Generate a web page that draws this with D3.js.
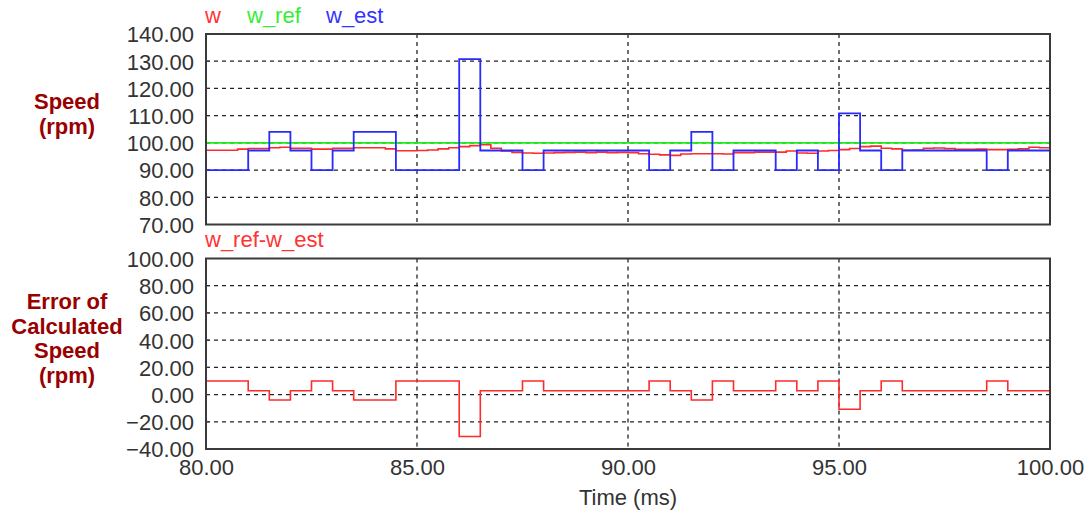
<!DOCTYPE html>
<html>
<head>
<meta charset="utf-8">
<script src="https://cdn.jsdelivr.net/npm/d3@7"></script>
<style>
  body { margin: 0; background: #fff; }
  svg { display: block; font-family: "Liberation Sans", Arial, sans-serif; }
  .tick text { fill: #333; font-size: 22px; }
  .domain { display: none; }
</style>
</head>
<body>
<div id="chart"></div>
<script>
// speed traces, time in ms

const wTime = [80, 80.25, 80.5, 80.75, 81, 81.25, 81.5, 81.75, 82, 82.25, 82.5, 82.75,
  83, 83.25, 83.5, 83.75, 84, 84.25, 84.5, 84.75, 85, 85.25, 85.5, 85.75,
  86, 86.25, 86.5, 86.75, 87, 87.25, 87.5, 87.75, 88, 88.25, 88.5, 88.75,
  89, 89.25, 89.5, 89.75, 90, 90.25, 90.5, 90.75, 91, 91.25, 91.5, 91.75,
  92, 92.25, 92.5, 92.75, 93, 93.25, 93.5, 93.75, 94, 94.25, 94.5, 94.75,
  95, 95.25, 95.5, 95.75, 96, 96.25, 96.5, 96.75, 97, 97.25, 97.5, 97.75,
  98, 98.25, 98.5, 98.75, 99, 99.25, 99.5, 99.75, 100];
const wSpeed = [97.3, 97.3, 97.3, 97.7, 97.9, 97.9, 98.2, 98.4, 98.0, 98.0, 97.7, 97.7,
  98.0, 98.0, 98.2, 98.2, 98.2, 97.8, 97.1, 97.1, 97.2, 97.4, 97.8, 98.2,
  98.6, 99.0, 99.3, 98.0, 97.0, 96.5, 96.3, 96.2, 96.3, 96.4, 96.5, 96.6,
  96.4, 96.6, 96.4, 96.5, 96.4, 96.0, 95.8, 95.6, 95.4, 95.9, 96.0, 96.0,
  96.0, 95.9, 96.4, 96.4, 96.6, 96.6, 96.6, 97.0, 96.3, 96.2, 97.0, 97.2,
  97.5, 97.9, 98.6, 98.8, 98.0, 97.8, 97.3, 97.4, 98.0, 98.1, 97.9, 97.6,
  97.6, 97.7, 97.5, 97.5, 97.6, 97.8, 98.4, 98.2, 98.2];

const wRef = 100;

const estTime = [80, 80.5, 81, 81.5, 82, 82.5, 83, 83.5, 84, 84.5, 85, 85.5,
  86, 86.5, 87, 87.5, 88, 88.5, 89, 89.5, 90, 90.5, 91, 91.5,
  92, 92.5, 93, 93.5, 94, 94.5, 95, 95.5, 96, 96.5, 97, 97.5,
  98, 98.5, 99, 99.5, 100];
const estSpeed = [90, 90, 97.2, 104, 97.2, 90, 97.2, 104, 104, 90, 90, 90,
  130.8, 97.2, 97.2, 90, 97.2, 97.2, 97.2, 97.2, 97.2, 90, 97.2, 104,
  90, 97.2, 97.2, 90, 97.2, 90, 110.8, 97.2, 90, 97.2, 97.2, 97.2,
  97.2, 90, 97.2, 97.2, 97.2];

const speedTicks = [70, 80, 90, 100, 110, 120, 130, 140];
const errTicks = [-40, -20, 0, 20, 40, 60, 80, 100];
const timeTicks = [80, 85, 90, 95, 100];

const width = 1087, height = 518;
const left = 206, right = 1050;

const svg = d3.select("#chart").append("svg")
  .attr("width", width)
  .attr("height", height);

const x = d3.scaleLinear().domain([80, 100]).range([left, right]);
const ySpeed = d3.scaleLinear().domain([70, 140]).range([224.5, 34]);
const yErr = d3.scaleLinear().domain([-40, 100]).range([449, 258.5]);

const fmt = d3.format(".2f");

function panel(y, ticks, top, bottom) {
  const g = svg.append("g");
  // horizontal grid
  g.append("g").selectAll("line")
    .data(ticks.slice(1, -1))
    .enter().append("line")
    .attr("x1", left).attr("x2", right)
    .attr("y1", d => y(d)).attr("y2", d => y(d))
    .attr("stroke", "#222").attr("stroke-width", 1.3)
    .attr("stroke-dasharray", "4,4");
  // vertical grid
  g.append("g").selectAll("line")
    .data(timeTicks.slice(1, -1))
    .enter().append("line")
    .attr("x1", d => x(d)).attr("x2", d => x(d))
    .attr("y1", top).attr("y2", bottom)
    .attr("stroke", "#222").attr("stroke-width", 1.3)
    .attr("stroke-dasharray", "4,4");
  // y tick labels
  g.append("g")
    .attr("transform", `translate(${left},0)`)
    .call(d3.axisLeft(y).tickValues(ticks).tickFormat(fmt).tickSize(0).tickPadding(12))
    .selectAll(".tick text").attr("dy", "0.36em");
  // inward tick marks
  g.append("g").selectAll("line")
    .data(ticks)
    .enter().append("line")
    .attr("x1", left).attr("x2", left + 4)
    .attr("y1", d => y(d)).attr("y2", d => y(d))
    .attr("stroke", "#333");
  return g;
}

const topPanel = panel(ySpeed, speedTicks, 34, 224.5);
const botPanel = panel(yErr, errTicks, 258.5, 449);

// x axis labels
svg.append("g")
  .attr("transform", `translate(0,449)`)
  .call(d3.axisBottom(x).tickValues(timeTicks).tickFormat(fmt).tickSize(0).tickPadding(10));

svg.append("text")
  .attr("x", x(90)).attr("y", 505)
  .attr("text-anchor", "middle")
  .attr("font-size", 22).attr("fill", "#333")
  .text("Time (ms)");

// traces
const stepLine = (y) => d3.line()
  .x(d => x(d[0]))
  .y(d => y(d[1]))
  .curve(d3.curveStepAfter);

const wData = wTime.map((t, i) => [t, wSpeed[i]]);
const refData = [[80, wRef], [100, wRef]];
const estData = estTime.map((t, i) => [t, estSpeed[i]]);
const errData = estTime.map((t, i) => [t, wRef - estSpeed[i]]);

topPanel.append("path").datum(wData)
  .attr("d", stepLine(ySpeed))
  .attr("fill", "none").attr("stroke", "#ff2a2a").attr("stroke-width", 1.6);
topPanel.append("path").datum(refData)
  .attr("d", stepLine(ySpeed))
  .attr("fill", "none").attr("stroke", "#1aee1a").attr("stroke-width", 1.6);
topPanel.append("path").datum(estData)
  .attr("d", stepLine(ySpeed))
  .attr("fill", "none").attr("stroke", "#2a2aff").attr("stroke-width", 1.8);

botPanel.append("path").datum(errData)
  .attr("d", stepLine(yErr))
  .attr("fill", "none").attr("stroke", "#ff2a2a").attr("stroke-width", 1.6);

// frames
[[34, 224.5], [258.5, 449]].forEach(([t, b]) => {
  svg.append("rect")
    .attr("x", left).attr("y", t)
    .attr("width", right - left).attr("height", b - t)
    .attr("fill", "none").attr("stroke", "#3a3a3a").attr("stroke-width", 2);
});

// legends
const legend = [
  { label: "w", color: "#ff3333", x: 205 },
  { label: "w_ref", color: "#33ee33", x: 247 },
  { label: "w_est", color: "#3333ff", x: 326 }
];
svg.append("g").selectAll("text")
  .data(legend)
  .enter().append("text")
  .attr("x", d => d.x).attr("y", 23)
  .attr("font-size", 22)
  .attr("fill", d => d.color)
  .text(d => d.label);

svg.append("text")
  .attr("x", 205).attr("y", 247)
  .attr("font-size", 22).attr("fill", "#ff3333")
  .text("w_ref-w_est");

// y titles
function title(lines, cy) {
  const t = svg.append("text")
    .attr("text-anchor", "middle")
    .attr("font-size", 22).attr("font-weight", "bold")
    .attr("fill", "#990000");
  lines.forEach((s, i) => {
    t.append("tspan")
      .attr("x", 67)
      .attr("y", cy + i * 24.5)
      .text(s);
  });
}
title(["Speed", "(rpm)"], 109);
title(["Error of", "Calculated", "Speed", "(rpm)"], 309);
</script>
</body>
</html>
